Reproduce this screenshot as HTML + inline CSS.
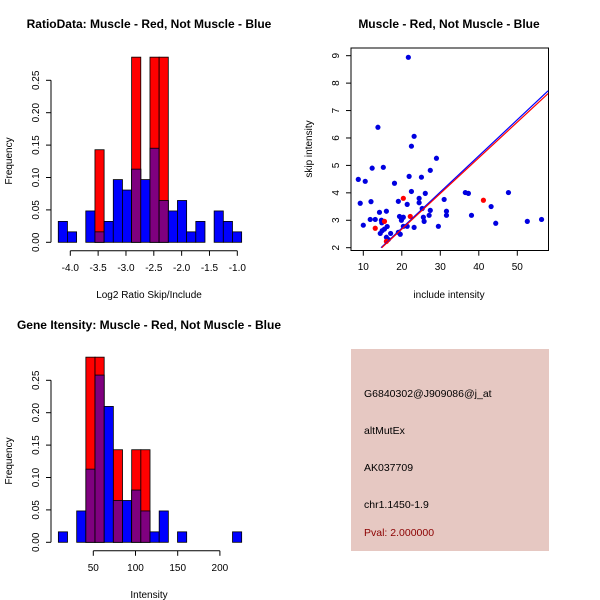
<!DOCTYPE html>
<html><head><meta charset="utf-8"><style>
html,body{margin:0;padding:0;background:#fff;}
svg{display:block;font-family:"Liberation Sans",sans-serif;}
</style></head><body>
<svg id="s" width="600" height="600" viewBox="0 0 600 600">
<rect width="600" height="600" fill="#fff"/>
<g font-weight="bold" font-size="12" text-anchor="middle">
<text x="149" y="28">RatioData: Muscle - Red, Not Muscle - Blue</text>
<text x="449" y="28">Muscle - Red, Not Muscle - Blue</text>
<text x="149" y="329">Gene Itensity: Muscle - Red, Not Muscle - Blue</text>
</g>
<g font-size="10" text-anchor="middle">
<text x="149" y="298">Log2 Ratio Skip/Include</text>
<text x="149" y="598">Intensity</text>
<text x="449" y="298">include intensity</text>
<text transform="translate(12,161) rotate(-90)">Frequency</text>
<text transform="translate(12,461) rotate(-90)">Frequency</text>
<text transform="translate(312,149) rotate(-90)">skip intensity</text>
</g>
<g id="info">
<rect x="351" y="349" width="198" height="202" fill="#E6C8C2"/>
<g font-size="10.5">
<text x="364" y="397">G6840302@J909086@j_at</text>
<text x="364" y="434">altMutEx</text>
<text x="364" y="471">AK037709</text>
<text x="364" y="508">chr1.1450-1.9</text>
<text x="364" y="536" fill="#8B0000">Pval: 2.000000</text>
</g></g>
</svg>
<script>
// Ratio histogram data
const ratioBinStart = -4.216;
const ratioBinWidth = 0.1647;
const ratioBlue = [2,1,0,3,1,2,6,5,7,6,9,4,3,4,1,2,0,3,2,1];
const ratioRed  = [0,0,0,0,1,0,0,0,2,0,2,2,0,0,0,0,0,0,0,0];
const ratioXTicks = [-4.0,-3.5,-3.0,-2.5,-2.0,-1.5,-1.0];
const freqTicks = [0.00,0.05,0.10,0.15,0.20,0.25];
// Intensity histogram data
const intBinStart = 8.6;
const intBinWidth = 10.86;
const intBlue = [1,0,3,7,16,13,4,4,5,3,1,3,0,1,0,0,0,0,0,1];
const intRed  = [0,0,0,2,2,0,1,0,1,1,0,0,0,0,0,0,0,0,0,0];
const intXTicks = [50,100,150,200];
// Scatter data
const blueX = [8.7,9.2,10.0,10.5,11.8,12.0,12.3,13.1,13.8,14.2,14.4,14.7,14.8,14.9,15.2,15.5,16.0,16.0,16.2,16.5,17.1,18.1,19.1,19.1,19.4,19.6,19.9,20.4,20.4,21.4,21.4,21.7,21.9,22.5,22.5,23.2,23.2,24.5,24.5,25.1,25.3,25.6,25.8,26.1,27.1,27.4,27.4,29.0,29.5,31.0,31.6,31.6,36.5,37.3,38.1,43.2,44.4,47.7,52.6,56.3];
const blueY = [4.49,3.62,2.82,4.42,3.03,3.68,4.90,3.03,6.39,3.29,2.52,3.0,2.91,2.62,4.93,2.68,3.33,2.38,2.77,2.30,2.52,4.35,3.69,2.56,3.14,2.49,3.0,3.11,2.78,3.58,2.78,8.94,4.60,5.70,4.05,6.06,2.74,3.80,3.64,4.57,3.43,3.11,2.96,3.98,3.18,3.36,4.82,5.26,2.78,3.76,3.33,3.18,4.01,3.98,3.18,3.5,2.89,4.01,2.96,3.03];
const redX = [13.1,15.5,16.0,20.4,22.2,41.2];
const redY = [2.71,2.96,2.23,3.80,3.14,3.73];
const scatterXTicks = [10,20,30,40,50];
const scatterYTicks = [2,3,4,5,6,7,8,9];
const blueFit = [14.6, 2.0, 58.0, 7.72];
const redFit = [14.8, 2.0, 58.0, 7.62];

const NS = "http://www.w3.org/2000/svg";
const svg = document.getElementById('s');
function mk(tag, attrs, parent){const e=document.createElementNS(NS,tag);for(const k in attrs)e.setAttribute(k,attrs[k]);(parent||svg).appendChild(e);return e;}

function hist(prefix, y0, binStart, binW, blue, red, xTicks, xMin, xToPx){
  const g = mk('g',{});
  
  
  const py0 = y0, pyPerUnit = 648;
  const yPx = v => py0 - v*pyPerUnit;
  const nB = blue.reduce((a,b)=>a+b,0), nR = red.reduce((a,b)=>a+b,0);
  for(let i=0;i<blue.length;i++){
    const xa = xToPx(binStart+i*binW), xb = xToPx(binStart+(i+1)*binW);
    const fb = blue[i]/nB, fr = red[i]/nR;
    if(fb>0){const r=mk('rect',{x:xa,y:yPx(fb),width:xb-xa,height:fb*pyPerUnit,fill:'#0000FF',stroke:'#000','stroke-width':0.8},g);
      
      }
    if(fr>0){const r=mk('rect',{x:xa,y:yPx(fr),width:xb-xa,height:fr*pyPerUnit,fill:'#FF0000',stroke:'#000','stroke-width':0.8},g);
      
      }
    const m = Math.min(fb,fr);
    if(m>0){const r=mk('rect',{x:xa,y:yPx(m),width:xb-xa,height:m*pyPerUnit,fill:'#7F007F',stroke:'#000','stroke-width':0.8},g);
      
      }
  }
  // y axis
  const ax = 51;
  mk('line',{x1:ax,x2:ax,y1:yPx(0),y2:yPx(0.25),stroke:'#000'},g);
  freqTicks.forEach(t=>{
    mk('line',{x1:ax-5,x2:ax,y1:yPx(t),y2:yPx(t),stroke:'#000'},g);
    const tx=mk('text',{transform:`translate(39,${yPx(t)}) rotate(-90)`,'font-size':10,'text-anchor':'middle'},g);
    tx.textContent=t.toFixed(2);
    
    
  });
  // x axis
  const xy = y0+8.5;
  mk('line',{x1:xToPx(xTicks[0]),x2:xToPx(xTicks[xTicks.length-1]),y1:xy,y2:xy,stroke:'#000'},g);
  xTicks.forEach(t=>{
    mk('line',{x1:xToPx(t),x2:xToPx(t),y1:xy,y2:xy+5,stroke:'#000'},g);
    const tx=mk('text',{x:xToPx(t),y:xy+20,'font-size':10,'text-anchor':'middle'},g);
    tx.textContent = (Number.isInteger(t)&&prefix==='intensity')?String(t):t.toFixed(1);
    
    
  });
}
hist('ratio', 242.3, ratioBinStart, ratioBinWidth, ratioBlue, ratioRed, ratioXTicks, 0, v=>70.3+(v+4)*55.67);
hist('intensity', 542.3, intBinStart, intBinWidth, intBlue, intRed, intXTicks, 0, v=>93.3+(v-50)*0.844);

// scatter
const sg = mk('g',{});


const sx = v => 363.3+(v-10)*3.85;
const sy = v => 247.7-(v-2)*27.43;
const box = mk('rect',{x:351,y:48,width:197.5,height:202.5,fill:'none',stroke:'#000'},sg);


const clip = mk('clipPath',{id:'sc'},sg); mk('rect',{x:351,y:48,width:197.5,height:202.5},clip);
const inner = mk('g',{'clip-path':'url(#sc)'},sg);
blueX.forEach((x,i)=>{const c=mk('circle',{cx:sx(x),cy:sy(blueY[i]),r:2.6,fill:'#0000E0'},inner);
  
  });
redX.forEach((x,i)=>{const c=mk('circle',{cx:sx(x),cy:sy(redY[i]),r:2.6,fill:'#FF0000'},inner);
  
  });
const lb = mk('line',{x1:sx(blueFit[0]),y1:sy(blueFit[1]),x2:sx(blueFit[2]),y2:sy(blueFit[3]),stroke:'#0000FF','stroke-width':1.2},inner);


const lr = mk('line',{x1:sx(redFit[0]),y1:sy(redFit[1]),x2:sx(redFit[2]),y2:sy(redFit[3]),stroke:'#FF0000','stroke-width':1.2},inner);


scatterXTicks.forEach(t=>{
  mk('line',{x1:sx(t),x2:sx(t),y1:250.7,y2:255.7,stroke:'#000'},sg);
  const tx=mk('text',{x:sx(t),y:270,'font-size':10,'text-anchor':'middle'},sg);
  tx.textContent=t;
  
  
});
scatterYTicks.forEach(t=>{
  mk('line',{x1:346,x2:351,y1:sy(t),y2:sy(t),stroke:'#000'},sg);
  const tx=mk('text',{transform:`translate(339,${sy(t)}) rotate(-90)`,'font-size':10,'text-anchor':'middle'},sg);
  tx.textContent=t;
  
  
});
</script>
</body></html>
